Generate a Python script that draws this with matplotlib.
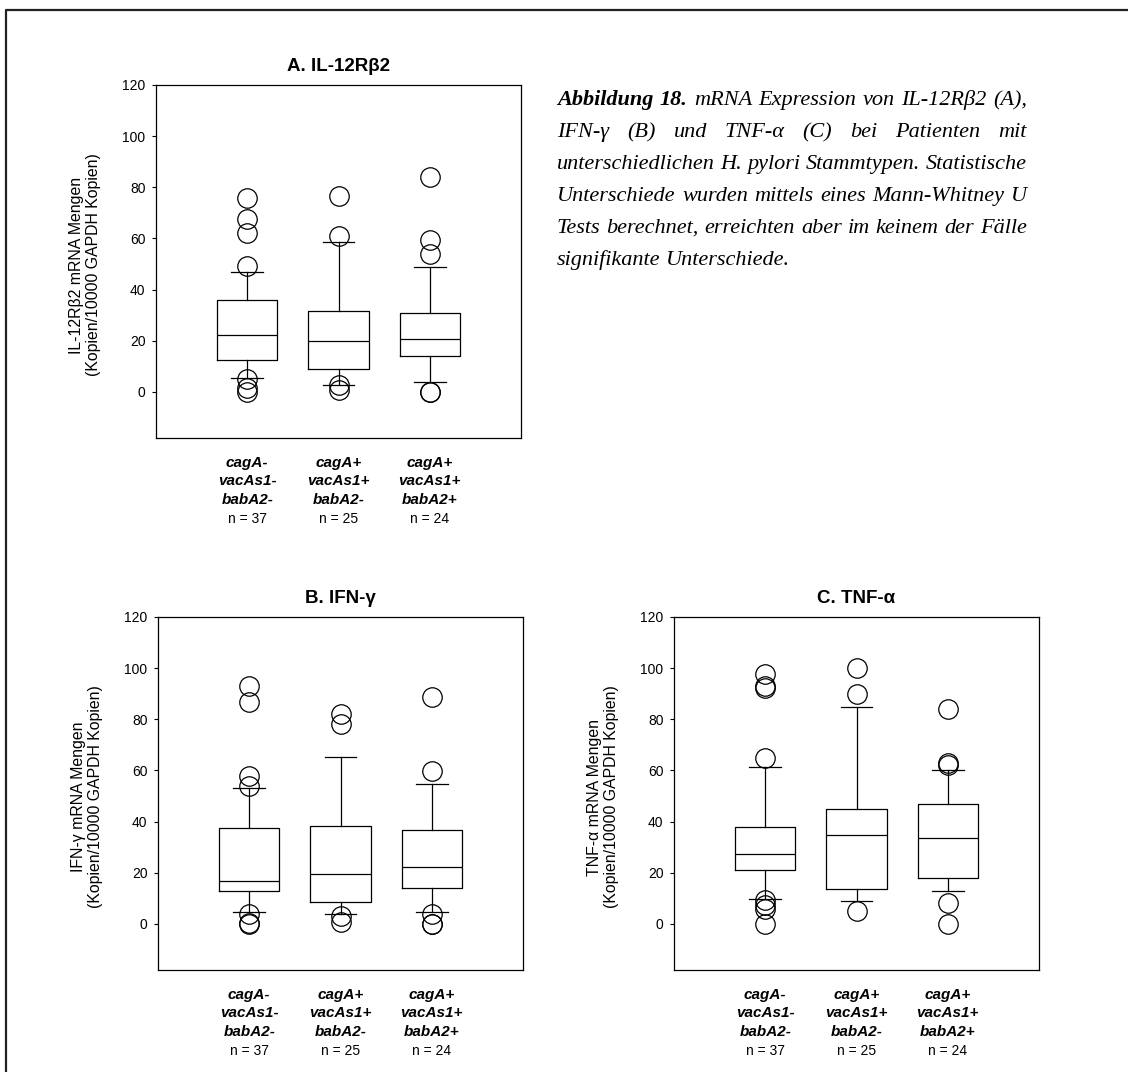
import matplotlib
matplotlib.use('Agg')
import matplotlib.pyplot as plt
from matplotlib.lines import Line2D
import matplotlib.transforms as mtransforms

plt.rcParams['font.family'] = ['Liberation Sans', 'DejaVu Sans']

# ---------------- data ----------------
group_lines = [["cagA-", "vacAs1-", "babA2-"],
               ["cagA+", "vacAs1+", "babA2-"],
               ["cagA+", "vacAs1+", "babA2+"]]
n_labels = ["n = 37", "n = 25", "n = 24"]
yticks = [0, 20, 40, 60, 80, 100, 120]

# Panel A: IL-12Rβ2
a_q1 = [12.4, 9.1, 14.1]
a_med = [22.4, 19.9, 20.8]
a_q3 = [35.8, 31.5, 30.7]
a_whislo = [5.5, 2.7, 4.0]
a_whishi = [47.0, 58.5, 48.8]
a_fliers = [[75.9, 67.8, 62.2, 49.1, 5.2, 1.7, 0.0],
            [76.8, 60.8, 2.7, 0.6],
            [84.0, 59.6, 54.0, 0.0, 0.0]]

# Panel B: IFN-γ
b_q1 = [13.0, 8.5, 13.9]
b_med = [16.9, 19.4, 22.3]
b_q3 = [37.5, 38.3, 36.8]
b_whislo = [4.8, 3.9, 4.8]
b_whishi = [53.0, 65.1, 54.7]
b_fliers = [[92.9, 86.7, 57.8, 53.9, 4.0, 0.3, 0.0],
            [81.9, 78.0, 3.3, 0.7],
            [88.8, 59.8, 4.0, 0.0, 0.0]]

# Panel C: TNF-α
c_q1 = [21.1, 13.8, 18.1]
c_med = [27.5, 34.9, 33.5]
c_q3 = [37.9, 44.8, 47.0]
c_whislo = [9.6, 9.0, 13.0]
c_whishi = [61.4, 84.9, 60.0]
c_fliers = [[97.8, 93.2, 92.4, 65.0, 9.5, 7.5, 6.0, 0.0],
            [99.9, 89.8, 5.1],
            [84.0, 62.8, 62.0, 8.1, 0.0]]

titles = ["A. IL-12R\u03b22", "B. IFN-\u03b3", "C. TNF-\u03b1"]
ylabels = ["IL-12R\u03b22 mRNA Mengen\n(Kopien/10000 GAPDH Kopien)",
           "IFN-\u03b3 mRNA Mengen\n(Kopien/10000 GAPDH Kopien)",
           "TNF-\u03b1 mRNA Mengen\n(Kopien/10000 GAPDH Kopien)"]

caption_lines = [
    "Abbildung 18. mRNA Expression von IL-12R\u03b22 (A),",
    "IFN-\u03b3 (B) und TNF-\u03b1 (C) bei Patienten mit",
    "unterschiedlichen H. pylori Stammtypen. Statistische",
    "Unterschiede wurden mittels eines Mann-Whitney U",
    "Tests berechnet, erreichten aber im keinem der F\u00e4lle",
    "signifikante Unterschiede.",
]

# ---------------- figure ----------------
W, H = 1128, 1072
fig = plt.figure(figsize=(W / 100, H / 100), dpi=100)
fig.patch.set_facecolor('white')


def px_axes(left, top, right, bottom):
    return fig.add_axes([left / W, 1 - bottom / H, (right - left) / W, (bottom - top) / H])


def make_panel(ax, q1, med, q3, wlo, whi, fliers, title, ylabel):
    stats = []
    for i in range(3):
        stats.append(dict(med=med[i], q1=q1[i], q3=q3[i], whislo=wlo[i], whishi=whi[i],
                          fliers=fliers[i], label=""))
    lw = 0.9
    ax.bxp(stats, positions=[1, 2, 3], widths=0.66, capwidths=0.35,
           showfliers=True,
           boxprops=dict(color='black', linewidth=lw),
           medianprops=dict(color='black', linewidth=lw),
           whiskerprops=dict(color='black', linewidth=lw),
           capprops=dict(color='black', linewidth=lw),
           flierprops=dict(marker='o', markerfacecolor='none', markeredgecolor='black',
                           markersize=14, markeredgewidth=0.9, linestyle='none'))
    ax.set_xlim(0, 4)
    ax.set_ylim(-18, 120)
    ax.set_yticks(yticks)
    ax.set_xticks([])
    ax.tick_params(axis='y', direction='out', length=3, width=0.8, pad=4.5, labelsize=10)
    for s in ax.spines.values():
        s.set_linewidth(0.9)
        s.set_color('black')
    ax.set_title(title, fontsize=13.5, fontweight='bold', pad=10)
    ax.text(-0.195, 0.49, ylabel, transform=ax.transAxes, rotation=90,
            ha='center', va='center', multialignment='center', fontsize=11.4,
            linespacing=1.15)
    base = mtransforms.blended_transform_factory(ax.transData, ax.transAxes)
    offs = [25, 43, 62]
    for i in range(3):
        for j, line in enumerate(group_lines[i]):
            tr = mtransforms.offset_copy(base, fig=fig, x=0, y=-offs[j], units='dots')
            ax.text(i + 1, 0, line, transform=tr, ha='center', va='center',
                    fontsize=11, fontweight='bold', fontstyle='italic')
        tr = mtransforms.offset_copy(base, fig=fig, x=0, y=-81, units='dots')
        ax.text(i + 1, 0, n_labels[i], transform=tr, ha='center', va='center', fontsize=10)


axA = px_axes(156, 85, 521, 438)
axB = px_axes(158, 617, 523, 970)
axC = px_axes(674, 617, 1039, 970)

make_panel(axA, a_q1, a_med, a_q3, a_whislo, a_whishi, a_fliers, titles[0], ylabels[0])
make_panel(axB, b_q1, b_med, b_q3, b_whislo, b_whishi, b_fliers, titles[1], ylabels[1])
make_panel(axC, c_q1, c_med, c_q3, c_whislo, c_whishi, c_fliers, titles[2], ylabels[2])

# outer frame (left and top edges visible)
fig.add_artist(Line2D([6 / W, 6 / W, 1.0], [0.0, 1 - 10 / H, 1 - 10 / H],
                      transform=fig.transFigure, color='#222222', linewidth=1.6))

# ---------------- justified caption ----------------
renderer = fig.canvas.get_renderer()
x_left, x_right = 557, 1027
baselines = [105, 137, 169, 201, 233, 265]
cap_fs = 16
for li, line in enumerate(caption_lines):
    words = line.split(' ')
    texts = []
    widths = []
    for wi, w in enumerate(words):
        bold = (li == 0 and wi < 2)
        t = fig.text(0, 0, w, fontsize=cap_fs, family=['Liberation Serif', 'DejaVu Serif'],
                     fontstyle='italic', fontweight='bold' if bold else 'normal',
                     ha='left', va='baseline')
        texts.append(t)
        widths.append(t.get_window_extent(renderer).width)
    last = (li == len(caption_lines) - 1)
    if last or len(words) == 1:
        space = cap_fs * 0.25 * 100 / 72
    else:
        space = (x_right - x_left - sum(widths)) / (len(words) - 1)
    x = x_left
    for t, w in zip(texts, widths):
        t.set_position((x / W, 1 - baselines[li] / H))
        x += w + space

fig.savefig('out.png', dpi=100, facecolor='white')
